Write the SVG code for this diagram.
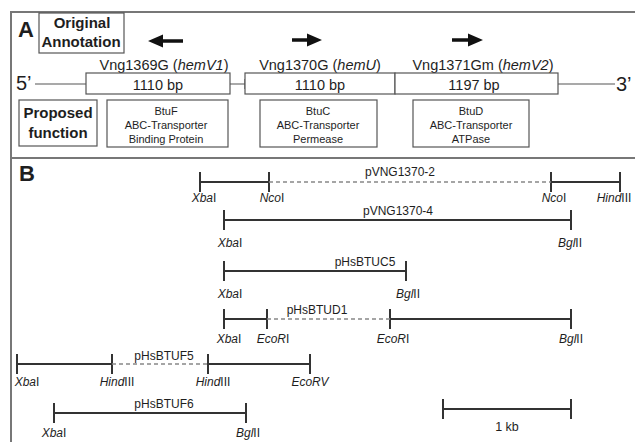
<svg xmlns="http://www.w3.org/2000/svg" width="635" height="442" viewBox="0 0 635 442">
<style>
text{font-family:"Liberation Sans",Arial,sans-serif;fill:#1e1e1e}
.frame{stroke:#777;stroke-width:2;fill:none}
.box{fill:#fff;stroke:#555;stroke-width:1.2}
.lbl{font-weight:bold}
.gene{font-size:14.5px;text-anchor:middle}
.fn{font-size:11px;text-anchor:middle}
.site{font-size:12px;text-anchor:middle}
.name{font-size:12px;text-anchor:middle}
.i{font-style:italic}
.solid{stroke:#333;stroke-width:2;fill:none}
.dash{stroke:#888;stroke-width:1.5;stroke-dasharray:4 3;fill:none}
.thin{stroke:#555;stroke-width:1.2;fill:none}
.arr{fill:#111}
</style>
<rect x="0" y="0" width="635" height="442" fill="#fff"/>
<!-- frame -->
<g id="frame">
<path class="frame" d="M11,443 V12 H636"/>
<path class="frame" d="M11,158 H636"/>
</g>
<!-- Panel A -->
<g id="panelA-label"><text x="18" y="37" font-size="22" class="lbl">A</text></g>
<g id="orig-annotation">
<rect class="box" x="39" y="13" width="85" height="40"/>
<text x="82" y="28" font-size="15" class="lbl" text-anchor="middle">Original</text>
<text x="81" y="47" font-size="15" class="lbl" text-anchor="middle">Annotation</text>
</g>
<g id="orientation-arrows">
<polygon class="arr" points="148,41 163,34.5 163,39.3 183,39.3 183,42.7 163,42.7 163,47.5"/>
<polygon class="arr" points="322,40 307,33.5 307,38.3 292,38.3 292,41.7 307,41.7 307,46.5"/>
<polygon class="arr" points="483,40 468,33.5 468,38.3 452,38.3 452,41.7 468,41.7 468,46.5"/>
</g>
<g id="connectors">
<path class="thin" d="M35,84 H86 M230,84 H245 M558,84 H615"/>
<path class="thin" d="M245,79 V89"/>
</g>
<text x="16" y="90" font-size="20">5’</text>
<text x="616" y="91" font-size="20">3’</text>
<g id="gene-vng1369g">
<text class="gene" x="164" y="70">Vng1369G (<tspan class="i">hemV1</tspan>)</text>
<rect class="box" x="86" y="73" width="144" height="21"/>
<text class="gene" x="158" y="90">1110 bp</text>
</g>
<g id="gene-vng1370g">
<text class="gene" x="320" y="70">Vng1370G (<tspan class="i">hemU</tspan>)</text>
<rect class="box" x="245" y="73" width="150" height="21"/>
<text class="gene" x="320" y="90">1110 bp</text>
</g>
<g id="gene-vng1371gm">
<text class="gene" x="483" y="70">Vng1371Gm (<tspan class="i">hemV2</tspan>)</text>
<rect class="box" x="395" y="73" width="163" height="21"/>
<text class="gene" x="474" y="90">1197 bp</text>
</g>
<g id="proposed-function">
<rect class="box" x="19" y="100" width="78" height="46"/>
<text x="58" y="118" font-size="15" class="lbl" text-anchor="middle">Proposed</text>
<text x="58" y="138" font-size="15" class="lbl" text-anchor="middle">function</text>
</g>
<g id="fn-btuf">
<rect class="box" x="107" y="100" width="121" height="47"/>
<text class="fn" x="166" y="115">BtuF</text>
<text class="fn" x="166" y="129">ABC-Transporter</text>
<text class="fn" x="166" y="143">Binding Protein</text>
</g>
<g id="fn-btuc">
<rect class="box" x="260" y="100" width="117" height="47"/>
<text class="fn" x="318" y="115">BtuC</text>
<text class="fn" x="318" y="129">ABC-Transporter</text>
<text class="fn" x="318" y="143">Permease</text>
</g>
<g id="fn-btud">
<rect class="box" x="413" y="100" width="116" height="47"/>
<text class="fn" x="471" y="115">BtuD</text>
<text class="fn" x="471" y="129">ABC-Transporter</text>
<text class="fn" x="471" y="143">ATPase</text>
</g>
<!-- Panel B -->
<g id="panelB-label"><text x="19" y="181" font-size="22" class="lbl">B</text></g>
<g id="pVNG1370-2">
<path class="solid" d="M200,182 H269 M551,182 H620 M200,172 V192 M269,172 V192 M551,172 V192 M620,172 V192"/>
<path class="dash" d="M269,182 H551"/>
<text class="name" x="400" y="176">pVNG1370-2</text>
<text class="site" x="204" y="202"><tspan class="i">Xba</tspan>I</text>
<text class="site" x="272" y="202"><tspan class="i">Nco</tspan>I</text>
<text class="site" x="554" y="202"><tspan class="i">Nco</tspan>I</text>
<text class="site" x="614" y="202"><tspan class="i">Hind</tspan>III</text>
</g>
<g id="pVNG1370-4">
<path class="solid" d="M224,220 H571 M224,210 V230 M571,210 V230"/>
<text class="name" x="398" y="215">pVNG1370-4</text>
<text class="site" x="230" y="247"><tspan class="i">Xba</tspan>I</text>
<text class="site" x="570" y="247"><tspan class="i">Bgl</tspan>II</text>
</g>
<g id="pHsBTUC5">
<path class="solid" d="M224,271 H406 M224,261 V281 M406,261 V281"/>
<text class="name" x="365" y="266">pHsBTUC5</text>
<text class="site" x="230" y="298"><tspan class="i">Xba</tspan>I</text>
<text class="site" x="408" y="298"><tspan class="i">Bgl</tspan>II</text>
</g>
<g id="pHsBTUD1">
<path class="solid" d="M224,319 H267 M390,319 H571 M224,309 V329 M267,309 V329 M390,309 V329 M571,309 V329"/>
<path class="dash" d="M267,319 H390"/>
<text class="name" x="317" y="314">pHsBTUD1</text>
<text class="site" x="229" y="343"><tspan class="i">Xba</tspan>I</text>
<text class="site" x="273" y="343"><tspan class="i">EcoR</tspan>I</text>
<text class="site" x="393" y="343"><tspan class="i">EcoR</tspan>I</text>
<text class="site" x="571" y="343"><tspan class="i">Bgl</tspan>II</text>
</g>
<g id="pHsBTUF5">
<path class="solid" d="M17,364 H112 M208,364 H310 M17,354 V374 M112,354 V374 M208,354 V374 M310,354 V374"/>
<path class="dash" d="M112,364 H208"/>
<text class="name" x="164" y="360">pHsBTUF5</text>
<text class="site" x="27" y="386"><tspan class="i">Xba</tspan>I</text>
<text class="site" x="117" y="386"><tspan class="i">Hind</tspan>III</text>
<text class="site" x="213" y="386"><tspan class="i">Hind</tspan>III</text>
<text class="site i" x="310" y="386">EcoRV</text>
</g>
<g id="pHsBTUF6">
<path class="solid" d="M54,413 H246 M54,403 V423 M246,403 V423"/>
<text class="name" x="164" y="408">pHsBTUF6</text>
<text class="site" x="54" y="437"><tspan class="i">Xba</tspan>I</text>
<text class="site" x="248" y="437"><tspan class="i">Bgl</tspan>II</text>
</g>
<g id="scale-bar">
<path class="solid" d="M443,409 H571 M443,399 V419 M571,399 V419"/>
<text x="507" y="431" font-size="12.5" text-anchor="middle">1 kb</text>
</g>
</svg>
